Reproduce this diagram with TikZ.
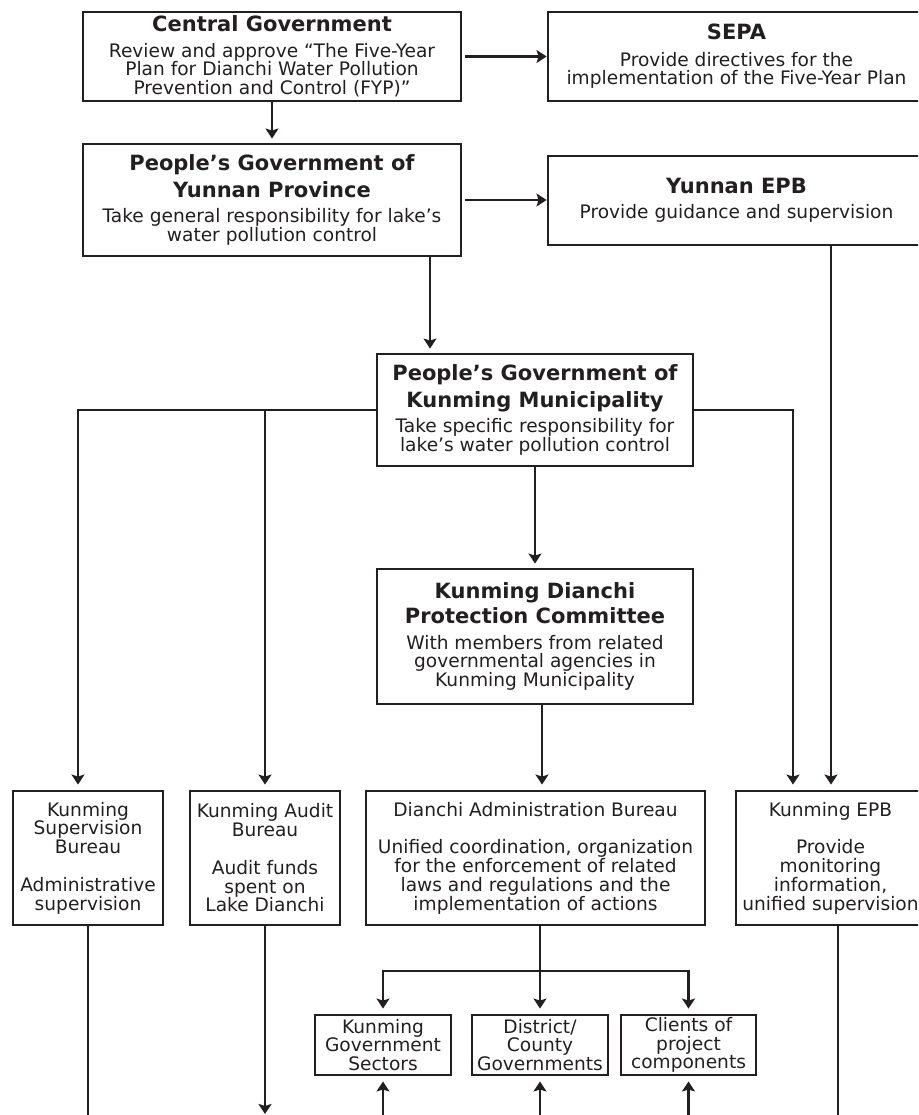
\documentclass[tikz,border=0pt]{standalone}
\usepackage{fontspec}
\setmainfont{DejaVu Sans}
\usetikzlibrary{arrows.meta}
\definecolor{ink}{HTML}{231F20}
\newcommand\ttl[1]{{\fontsize{21}{18.8}\selectfont\bfseries #1}}
\newcommand\bodyfnt{\fontsize{18.6}{18.8}\selectfont\lineskiplimit=-100pt\relax}
\begin{document}
\begin{tikzpicture}[x=1pt,y=-1pt,line join=miter,
  box/.style={draw=ink, line width=2.9pt, inner sep=0pt, align=center, text=ink, font=\bodyfnt},
  arr/.style={draw=ink, line width=2.3pt, -{Stealth[length=10pt,width=13pt,inset=2pt]}},
  ln/.style={draw=ink, line width=2.3pt}]
\useasboundingbox (0,0) rectangle (918,1115);
\clip (0,0) rectangle (918,1115);

% boxes
\node[box, minimum width=378pt, minimum height=89pt] (central) at (272,56.5)
  {\ttl{Central Government}\\[6.5pt]Review and approve “The Five-Year\\Plan for Dianchi Water Pollution\\Prevention and Control (FYP)”};
\node[box, minimum width=377pt, minimum height=89pt] (sepa) at (736.5,56.5)
  {\ttl{SEPA}\\[7.5pt]Provide directives for the\\implementation of the Five-Year Plan};
\node[box, minimum width=378pt, minimum height=112pt] (prov) at (272,200)
  {\ttl{People’s Government of}\\[8.2pt]\ttl{Yunnan Province}\\[6.5pt]Take general responsibility for lake’s\\water pollution control};
\node[box, minimum width=377pt, minimum height=89pt] (yepb) at (736.5,200.5)
  {\ttl{Yunnan EPB}\\[6pt]Provide guidance and supervision};
\node[box, minimum width=316pt, minimum height=112pt] (kmuni) at (535,410)
  {\ttl{People’s Government of}\\[8.2pt]\ttl{Kunming Municipality}\\[6.5pt]Take specific responsibility for\\lake’s water pollution control};
\node[box, minimum width=316pt, minimum height=135pt] (comm) at (535,636.5)
  {\ttl{Kunming Dianchi}\\[6.5pt]\ttl{Protection Committee}\\[6.5pt]With members from related\\governmental agencies in\\Kunming Municipality};

\node[box, minimum width=150pt, minimum height=134pt] (sup) at (88,858)
  {Kunming\\Supervision\\Bureau\\[18.8pt]Administrative\\supervision};
\node[box, minimum width=150pt, minimum height=134pt] (audit) at (265,858)
  {Kunming Audit\\Bureau\\[18.8pt]Audit funds\\spent on\\Lake Dianchi};
\node[box, minimum width=339pt, minimum height=134pt] (dab) at (535.5,858)
  {Dianchi Administration Bureau\\[18.8pt]Unified coordination, organization\\for the enforcement of related\\laws and regulations and the\\implementation of actions};
\node[box, minimum width=189pt, minimum height=134pt] (kepb) at (830.5,858)
  {Kunming EPB\\[18.8pt]Provide\\monitoring\\information,\\unified supervision};

\node[box, minimum width=136pt, minimum height=60pt] (kgs) at (383,1045)
  {Kunming\\Government\\Sectors};
\node[box, minimum width=136pt, minimum height=60pt] (dcg) at (540,1045)
  {District/\\County\\Governments};
\node[box, minimum width=135pt, minimum height=60pt] (cpc) at (688.5,1045)
  {Clients of\\project\\components};

% helper coordinates
\coordinate (x78) at (78,0);
\coordinate (x430) at (430,0);
\coordinate (x542) at (542,0);
\coordinate (x793) at (793,0);
\coordinate (x831) at (831,0);
\coordinate (x838) at (838,0);
\coordinate (j1) at (265,410);
\coordinate (jb) at (540,971);
\coordinate (bot) at (0,1115);

% connectors
\draw[arr] ([xshift=3pt]central.east) -- (sepa.west |- central.east);
\draw[arr,shorten >=4pt] (central.south) -- (prov.north);
\draw[arr] ([xshift=3pt]prov.east) -- (yepb.west |- prov.east);
\draw[arr,shorten >=4pt] (prov.south -| x430) -- (kmuni.north -| x430);
\draw[arr,shorten >=4pt] (kmuni.south) -- (comm.north);
\draw[arr,shorten >=5pt] (kmuni.west) -| (sup.north -| x78);
\draw[arr,shorten >=5pt] (j1) -- (audit.north);
\draw[arr,shorten >=5pt] (kmuni.east) -| (kepb.north -| x793);
\draw[arr,shorten >=5pt] (yepb.south -| x831) -- (kepb.north -| x831);
\draw[arr,shorten >=5pt] (comm.south -| x542) -- (dab.north -| x542);
\draw[arr,shorten >=5pt] (dab.south -| dcg.north) -- (dcg.north);
\draw[arr,shorten >=5pt] (jb) -| (kgs.north);
\draw[arr,shorten >=5pt] (jb) -| (cpc.north);
\draw[arr,shorten >=5pt] (kgs.south |- bot) -- (kgs.south);
\draw[arr,shorten >=5pt] (dcg.south |- bot) -- (dcg.south);
\draw[arr,shorten >=5pt] (cpc.south |- bot) -- (cpc.south);
\draw[ln] (sup.south) -- (sup.south |- bot);
\draw[arr,shorten >=1pt] (audit.south) -- (audit.south |- bot);
\draw[ln] (kepb.south -| x838) -- (bot -| x838);
\end{tikzpicture}
\end{document}
